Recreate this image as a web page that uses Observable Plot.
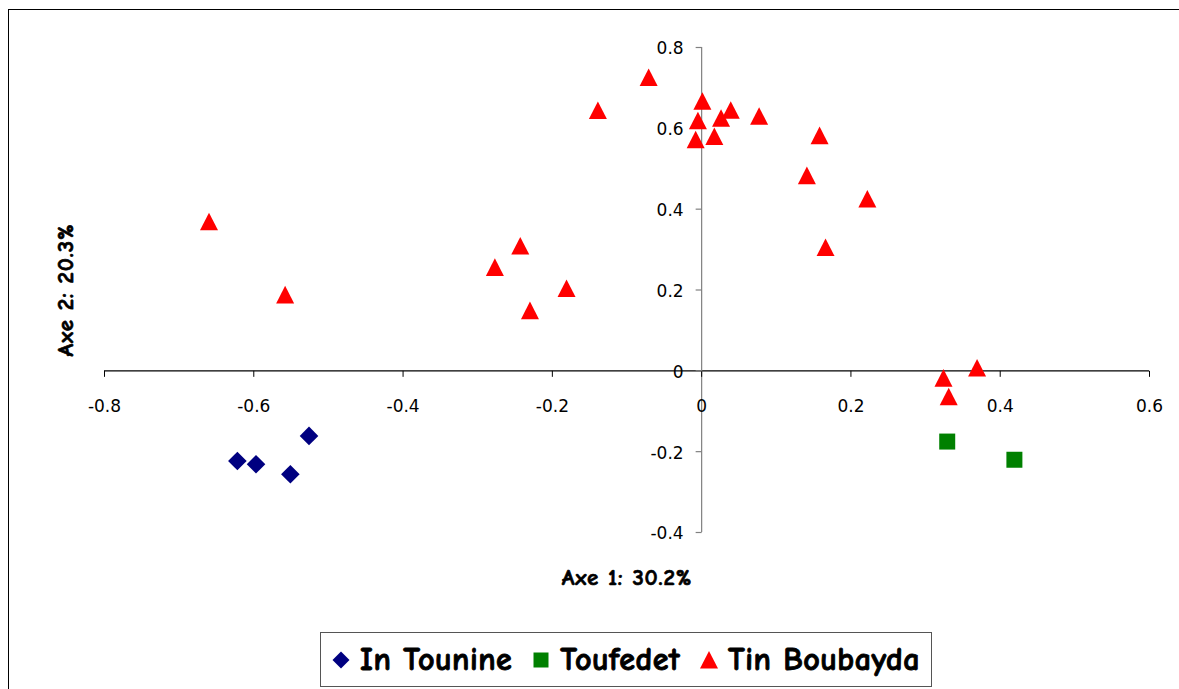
<!DOCTYPE html>
<html>
<head>
<meta charset="utf-8">
<script src="https://cdn.jsdelivr.net/npm/d3@7"></script>
<script src="https://cdn.jsdelivr.net/npm/@observablehq/plot@0.6"></script>
<style>
  html, body { margin: 0; padding: 0; background: #fff; width: 1179px; height: 689px; overflow: hidden; }
  #outer { position: absolute; left: 8px; top: 9px; width: 1300px; height: 800px;
           border-left: 1.5px solid #000; border-top: 1.5px solid #000; pointer-events: none; }
  #chart { position: absolute; left: 0; top: 0; }
  #legend { position: absolute; left: 320px; top: 632px; width: 612px; height: 55px;
            border: 1px solid #555; box-sizing: border-box; background: #fff;
            display: flex; align-items: center; padding-left: 11px;
            font-family: "Comic Sans MS", "Comic Neue", "DejaVu Sans", sans-serif;
            font-weight: bold; font-size: 32px; color: #000; white-space: nowrap;
            letter-spacing: 0.5px; -webkit-text-stroke: 0.9px #000; }
  #legend .item { display: flex; align-items: center; margin-right: 20px; }
  #legend svg { margin-right: 10px; }
  g.axtitle text { letter-spacing: 0.8px; }
</style>
</head>
<body>
<div id="outer"></div>
<div id="chart"></div>
<div id="legend"></div>
<script>
// ---- data ----
const series = ["In Tounine", "Toufedet", "Tin Boubayda"];
const xTicks = [-0.8, -0.6, -0.4, -0.2, 0, 0.2, 0.4, 0.6];
const yTicks = [0.8, 0.6, 0.4, 0.2, 0, -0.2, -0.4];
const xTitle = "Axe 1: 30.2%";
const yTitle = "Axe 2: 20.3%";

const inTounineX = [-0.622, -0.597, -0.551, -0.526];
const inTounineY = [-0.223, -0.231, -0.256, -0.161];

const toufedetX = [0.329, 0.419];
const toufedetY = [-0.175, -0.220];

const tinBoubaydaX = [-0.660, -0.558, -0.277, -0.243, -0.230, -0.181, -0.139, -0.071,
                      0.001, -0.005, -0.008, 0.017, 0.026, 0.039, 0.077,
                      0.158, 0.141, 0.222, 0.166, 0.324, 0.369, 0.331];
const tinBoubaydaY = [0.369, 0.188, 0.256, 0.309, 0.149, 0.204, 0.644, 0.726,
                      0.667, 0.619, 0.572, 0.580, 0.625, 0.645, 0.630,
                      0.582, 0.483, 0.425, 0.305, -0.018, 0.007, -0.064];

// ---- build tables ----
const toRows = (xs, ys) => xs.map((x, i) => ({x, y: ys[i]}));
const rowsIT = toRows(inTounineX, inTounineY);
const rowsTF = toRows(toufedetX, toufedetY);
const rowsTB = toRows(tinBoubaydaX, tinBoubaydaY);

// ---- custom marker shapes (Excel-like) ----
const diamond = h => ({draw(c) { c.moveTo(0, -h); c.lineTo(h, 0); c.lineTo(0, h); c.lineTo(-h, 0); c.closePath(); }});
const square = h => ({draw(c) { c.moveTo(-h, -h); c.lineTo(h, -h); c.lineTo(h, h); c.lineTo(-h, h); c.closePath(); }});
const triangle = h => ({draw(c) { c.moveTo(0, -h); c.lineTo(h, h * 0.95); c.lineTo(-h, h * 0.95); c.closePath(); }});
const tickDown = {draw(c) { c.moveTo(0, 0); c.lineTo(0, 6); }};
const tickLeft = {draw(c) { c.moveTo(0, 0); c.lineTo(-6, 0); }};

const colors = {"In Tounine": "#000080", "Toufedet": "#008000", "Tin Boubayda": "#FF0000"};
const fmt = d => String(d);
const tickFont = "DejaVu Sans, Verdana, sans-serif";
const titleFont = "'Comic Sans MS', 'Comic Neue', 'DejaVu Sans', sans-serif";

const chart = Plot.plot({
  width: 1179,
  height: 630,
  marginLeft: 104,
  marginRight: 30,
  marginTop: 47,
  marginBottom: 98,
  x: {domain: [-0.8, 0.6], axis: null},
  y: {domain: [-0.4, 0.8], axis: null},
  style: {background: "transparent", fontFamily: tickFont, color: "#000", overflow: "visible"},
  marks: [
    Plot.ruleY([0], {stroke: "#000", strokeWidth: 1.2}),
    Plot.ruleX([0], {stroke: "#808080", strokeWidth: 1.2}),
    Plot.dot(xTicks, {x: d => d, y: () => 0, symbol: tickDown, r: 3, stroke: "#000", fill: "none", strokeWidth: 1}),
    Plot.dot(yTicks, {x: () => 0, y: d => d, symbol: tickLeft, r: 3, stroke: "#808080", fill: "none", strokeWidth: 1.2}),
    Plot.text(xTicks, {x: d => d, y: () => 0, text: fmt, dy: 36, fontSize: 17, fill: "#000"}),
    Plot.text(yTicks, {x: () => 0, y: d => d, text: fmt, textAnchor: "end", dx: -18, dy: 1.5, fontSize: 17, fill: "#000"}),
    Plot.text([xTitle], {frameAnchor: "bottom", textAnchor: "middle", lineAnchor: "middle", dy: 45,
                         fontSize: 23, fontWeight: "bold", fontFamily: titleFont, fill: "#000",
                         stroke: "#000", strokeWidth: 0.7, ariaLabel: "xtitle", className: "axtitle"}),
    Plot.text([yTitle], {frameAnchor: "left", textAnchor: "middle", lineAnchor: "middle", rotate: -90, dx: -39,
                         fontSize: 23, fontWeight: "bold", fontFamily: titleFont, fill: "#000",
                         stroke: "#000", strokeWidth: 0.7, ariaLabel: "ytitle", className: "axtitle"}),
    Plot.dot(rowsIT, {x: "x", y: "y", symbol: diamond(9.3), r: 5, fill: colors["In Tounine"], stroke: "none"}),
    Plot.dot(rowsTF, {x: "x", y: "y", symbol: square(8), r: 5, fill: colors["Toufedet"], stroke: "none"}),
    Plot.dot(rowsTB, {x: "x", y: "y", symbol: triangle(9), r: 5, fill: colors["Tin Boubayda"], stroke: "none"})
  ]
});
document.getElementById("chart").appendChild(chart);
d3.select(chart).selectAll('g[aria-label="xtitle"] text, g[aria-label="ytitle"] text')
  .style("letter-spacing", "0.8px");

// ---- legend ----
const legendShapes = {"In Tounine": diamond(8.5), "Toufedet": square(7.5), "Tin Boubayda": triangle(9)};
const legend = d3.select("#legend");
series.forEach(name => {
  const item = legend.append("div").attr("class", "item");
  const svg = item.append("svg").attr("width", 18).attr("height", 20).attr("viewBox", "-9 -10 18 20")
    .style("-webkit-text-stroke", "0");
  const p = d3.path();
  legendShapes[name].draw(p);
  svg.append("path").attr("d", p.toString()).attr("fill", colors[name]);
  item.append("span").text(name);
});
</script>
</body>
</html>
